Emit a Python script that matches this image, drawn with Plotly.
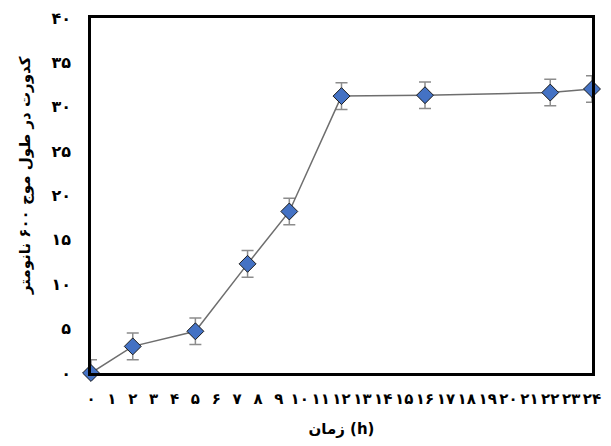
import plotly.graph_objects as go

# Data
time_h = [0, 2, 5, 7.5, 9.5, 12, 16, 22, 24]
turbidity = [0.0, 3.0, 4.7, 12.3, 18.2, 31.2, 31.3, 31.6, 32.0]
error = [1.5, 1.5, 1.5, 1.5, 1.5, 1.5, 1.5, 1.5, 1.5]
# lower bars cannot go below the axis floor (0)
error_minus = [min(e, v) for e, v in zip(error, turbidity)]

fa_digits = "۰۱۲۳۴۵۶۷۸۹"
def to_fa(n):
    return "".join(fa_digits[int(c)] for c in str(n))

x_ticks = list(range(0, 25))
x_ticktext = [to_fa(v) for v in x_ticks]
y_ticks = list(range(0, 41, 5))
y_ticktext = [to_fa(v) for v in y_ticks]

x_title = "زمان (h)"
y_title = "کدورت در طول موج ۶۰۰ نانومتر"

FONT = "DejaVu Sans"

fig = go.Figure(
    go.Scatter(
        x=time_h,
        y=turbidity,
        mode="lines+markers",
        line=dict(color="#6e6e6e", width=1.5),
        marker=dict(symbol="diamond", size=13, color="#4472C4",
                    line=dict(color="#1a1a1a", width=1)),
        error_y=dict(type="data", symmetric=False, array=error, arrayminus=error_minus,
                     visible=True, color="#8c8c8c", thickness=1.5, width=6),
        cliponaxis=False,
        showlegend=False,
        hoverinfo="skip",
    )
)

fig.update_layout(
    width=611,
    height=446,
    margin=dict(l=91, r=19, t=18, b=73),
    paper_bgcolor="white",
    plot_bgcolor="white",
    font=dict(family=FONT, size=13, color="black"),
    annotations=[
        dict(
            text=y_title, textangle=-90,
            xref="paper", yref="paper", x=0, y=0.555,
            xanchor="center", yanchor="middle", xshift=-66,
            showarrow=False,
            font=dict(family=FONT, size=15, color="black", weight="bold"),
        )
    ],
)

fig.update_xaxes(
    range=[0, 24],
    tickvals=x_ticks,
    ticktext=x_ticktext,
    tickfont=dict(family=FONT, size=15, color="black", weight="bold"),
    showgrid=False,
    zeroline=False,
    showline=True,
    mirror=True,
    linecolor="black",
    linewidth=2.5,
    ticks="",
    automargin=False,
    ticklabelstandoff=10,
    title=dict(text=x_title, font=dict(family=FONT, size=15, color="black", weight="bold"),
               standoff=17),
)

fig.update_yaxes(
    range=[0, 40],
    tickvals=y_ticks,
    ticktext=y_ticktext,
    tickfont=dict(family=FONT, size=16, color="black", weight="bold"),
    showgrid=False,
    zeroline=False,
    showline=True,
    mirror=True,
    linecolor="black",
    linewidth=2.5,
    ticks="",
    automargin=False,
    ticklabelstandoff=14,
)

fig.write_html(
    "out.html",
    config={"displayModeBar": False},
    post_script="document.body.style.margin='0';document.body.style.padding='0';",
)
